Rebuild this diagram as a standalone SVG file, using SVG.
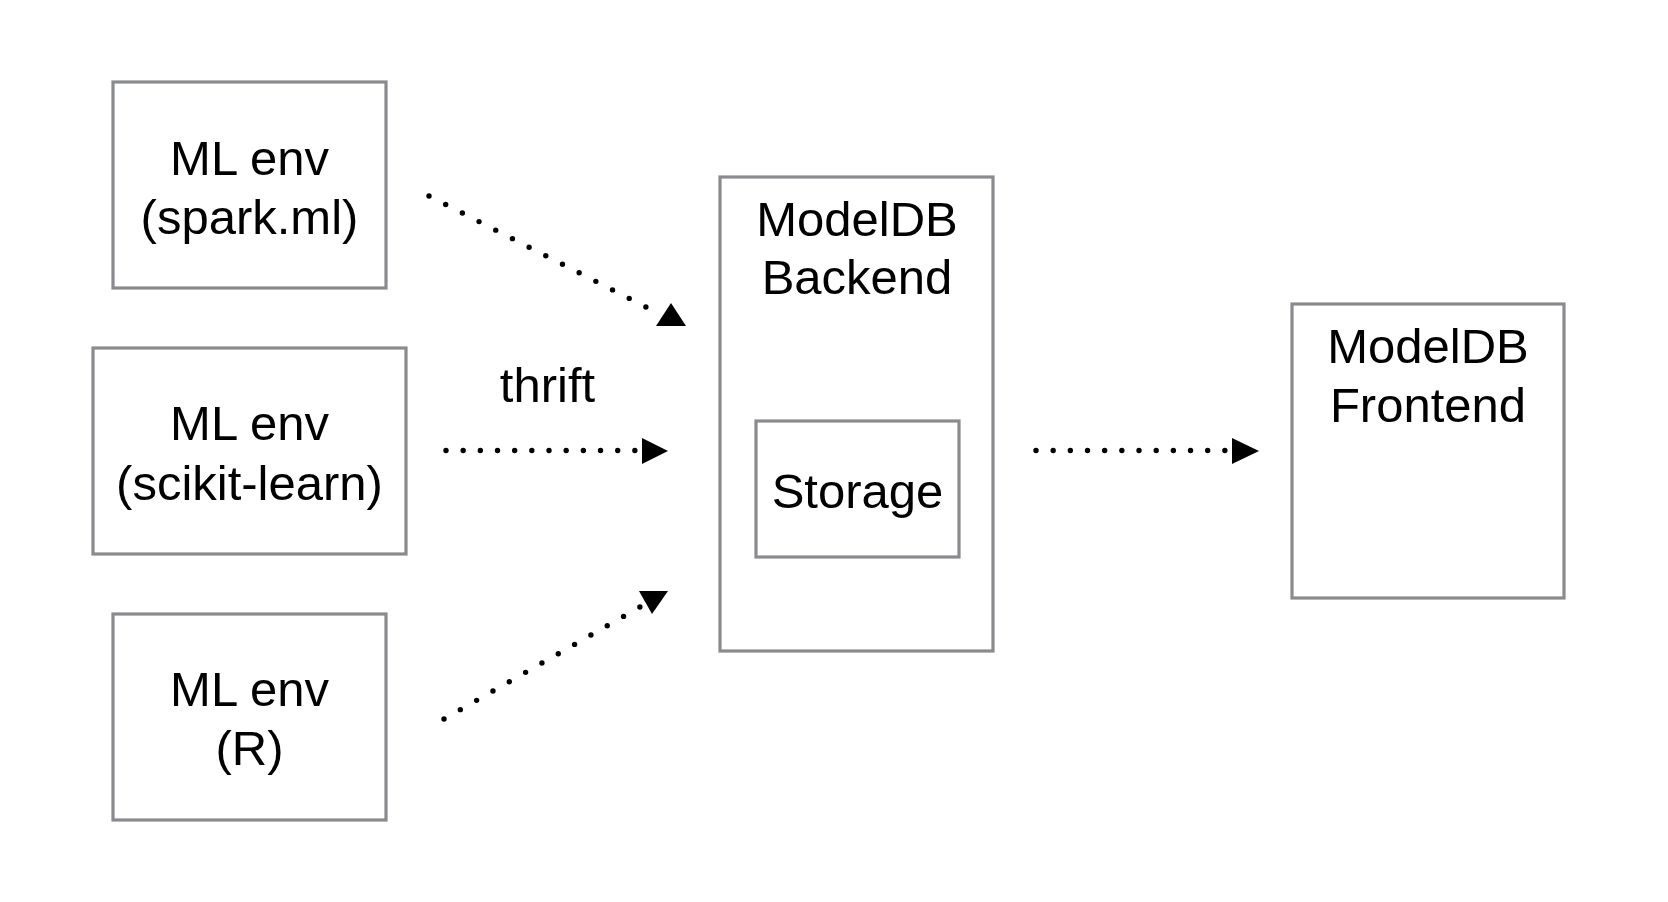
<svg xmlns="http://www.w3.org/2000/svg" width="1668" height="902" viewBox="0 0 1668 902">
<style>
.box{fill:#fff;stroke:#898b8e;stroke-width:3.2}
.t{font-family:"Liberation Sans",Arial,Helvetica,sans-serif;font-size:49px;fill:#000;text-anchor:middle}
.dot{fill:none;stroke:#000;stroke-width:5.4;stroke-linecap:round}
.head{fill:#000}
</style>
<rect width="1668" height="902" fill="#fff"/>
<g id="ml-spark">
<rect class="box" x="113" y="82" width="273" height="206"/>
<text class="t" x="249.5" y="175">ML env</text>
<text class="t" x="249.5" y="234">(spark.ml)</text>
</g>
<g id="ml-sklearn">
<rect class="box" x="93" y="348" width="313" height="206"/>
<text class="t" x="249.5" y="440">ML env</text>
<text class="t" x="249.5" y="500">(scikit-learn)</text>
</g>
<g id="ml-r">
<rect class="box" x="113" y="614" width="273" height="206"/>
<text class="t" x="249.5" y="706">ML env</text>
<text class="t" x="249.5" y="765">(R)</text>
</g>
<g id="backend">
<rect class="box" x="720" y="177" width="273" height="474"/>
<text class="t" x="857" y="236">ModelDB</text>
<text class="t" x="857" y="294">Backend</text>
</g>
<g id="storage">
<rect class="box" x="756" y="421" width="203" height="136"/>
<text class="t" x="857.5" y="508">Storage</text>
</g>
<g id="frontend">
<rect class="box" x="1292" y="304" width="272" height="294"/>
<text class="t" x="1428" y="363">ModelDB</text>
<text class="t" x="1428" y="422">Frontend</text>
</g>
<g id="connectors">
<line class="dot" x1="429" y1="196" x2="646" y2="307" stroke-dasharray="0 18.74"/>
<polygon class="head" points="671,303 656,326 686,326"/>
<line class="dot" x1="446" y1="450.5" x2="635" y2="450.5" stroke-dasharray="0 17.17"/>
<polygon class="head" points="642,438 642,464 668,451"/>
<line class="dot" x1="444" y1="719" x2="640" y2="607" stroke-dasharray="0 18.8"/>
<polygon class="head" points="639,591 668,591 652,614"/>
<line class="dot" x1="1036" y1="450.5" x2="1225" y2="450.5" stroke-dasharray="0 17.17"/>
<polygon class="head" points="1232,438 1232,464 1259,451"/>
<text class="t" x="547.5" y="402">thrift</text>
</g>
</svg>
